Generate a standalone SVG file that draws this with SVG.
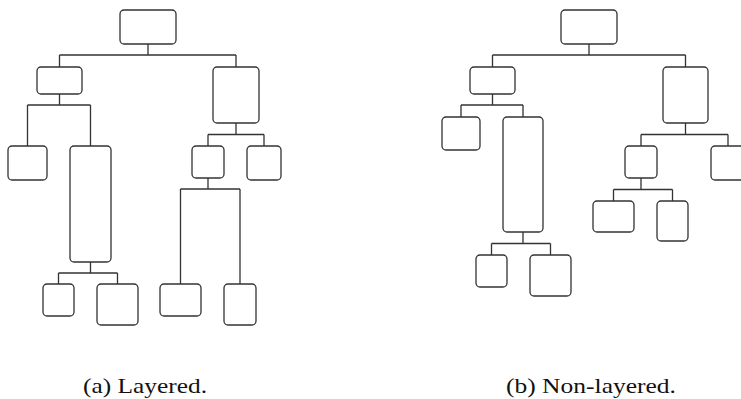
<svg xmlns="http://www.w3.org/2000/svg" width="741" height="399" viewBox="0 0 741 399">
<style>
.n{fill:#fff;stroke:#333;stroke-width:1.3}
.e{fill:none;stroke:#333;stroke-width:1.3}
.cap{font-family:"Liberation Serif","DejaVu Serif",serif;font-size:22px;fill:#111;text-anchor:middle}
</style>
<rect width="741" height="399" fill="#fff"/>
<g id="connectors">
<path class="e" d="M148,44V55M59.5,55H236M59.5,55V67M236,55V67"/>
<path class="e" d="M59.5,94V105M27.5,105H90.5M27.5,105V146M90.5,105V146"/>
<path class="e" d="M236,123V134.5M208,134.5H264M208,134.5V146M264,134.5V146"/>
<path class="e" d="M90.5,262V273M58.5,273H117.5M58.5,273V284M117.5,273V284"/>
<path class="e" d="M208,178V189M180.5,189H240M180.5,189V284M240,189V284"/>
<path class="e" d="M589,44V55M492.5,55H685.5M492.5,55V67M685.5,55V67"/>
<path class="e" d="M492.5,94V105M461,105H523M461,105V117M523,105V117"/>
<path class="e" d="M685.5,123V134.5M641,134.5H728M641,134.5V146M728,134.5V146"/>
<path class="e" d="M523,232V243.5M491.5,243.5H550.5M491.5,243.5V255M550.5,243.5V255"/>
<path class="e" d="M641,178V189.5M613.5,189.5H672.5M613.5,189.5V201M672.5,189.5V201"/>
</g>
<g id="a-root"><rect class="n" x="120" y="10" width="56" height="34" rx="4"/></g>
<g id="a-A"><rect class="n" x="37" y="67" width="45" height="27" rx="4"/></g>
<g id="a-B"><rect class="n" x="213" y="67" width="46" height="56" rx="4"/></g>
<g id="a-A1"><rect class="n" x="8" y="146" width="39" height="34" rx="4"/></g>
<g id="a-A2"><rect class="n" x="70" y="146" width="41" height="116" rx="4"/></g>
<g id="a-A2a"><rect class="n" x="43" y="284" width="31" height="32" rx="4"/></g>
<g id="a-A2b"><rect class="n" x="97" y="284" width="41" height="41" rx="4"/></g>
<g id="a-B1"><rect class="n" x="192" y="146" width="32" height="32" rx="4"/></g>
<g id="a-B2"><rect class="n" x="247" y="146" width="34" height="34" rx="4"/></g>
<g id="a-B1a"><rect class="n" x="160" y="284" width="41" height="32" rx="4"/></g>
<g id="a-B1b"><rect class="n" x="224" y="284" width="32" height="41" rx="4"/></g>
<g id="b-root"><rect class="n" x="561" y="10" width="56" height="34" rx="4"/></g>
<g id="b-C"><rect class="n" x="470" y="67" width="45" height="27" rx="4"/></g>
<g id="b-D"><rect class="n" x="663" y="67" width="45" height="56" rx="4"/></g>
<g id="b-C1"><rect class="n" x="442" y="117" width="38" height="33" rx="4"/></g>
<g id="b-C2"><rect class="n" x="503" y="117" width="40" height="115" rx="4"/></g>
<g id="b-C2a"><rect class="n" x="476" y="255" width="31" height="32" rx="4"/></g>
<g id="b-C2b"><rect class="n" x="530" y="255" width="41" height="41" rx="4"/></g>
<g id="b-D1"><rect class="n" x="625" y="146" width="32" height="32" rx="4"/></g>
<g id="b-D2"><rect class="n" x="711" y="146" width="34" height="34" rx="4"/></g>
<g id="b-D1a"><rect class="n" x="593" y="201" width="41" height="31" rx="4"/></g>
<g id="b-D1b"><rect class="n" x="657" y="201" width="31" height="40" rx="4"/></g>
<g id="captions">
<text class="cap" x="145" y="393" textLength="124" lengthAdjust="spacingAndGlyphs">(a) Layered.</text>
<text class="cap" x="591" y="393" textLength="170" lengthAdjust="spacingAndGlyphs">(b) Non-layered.</text>
</g>
</svg>
